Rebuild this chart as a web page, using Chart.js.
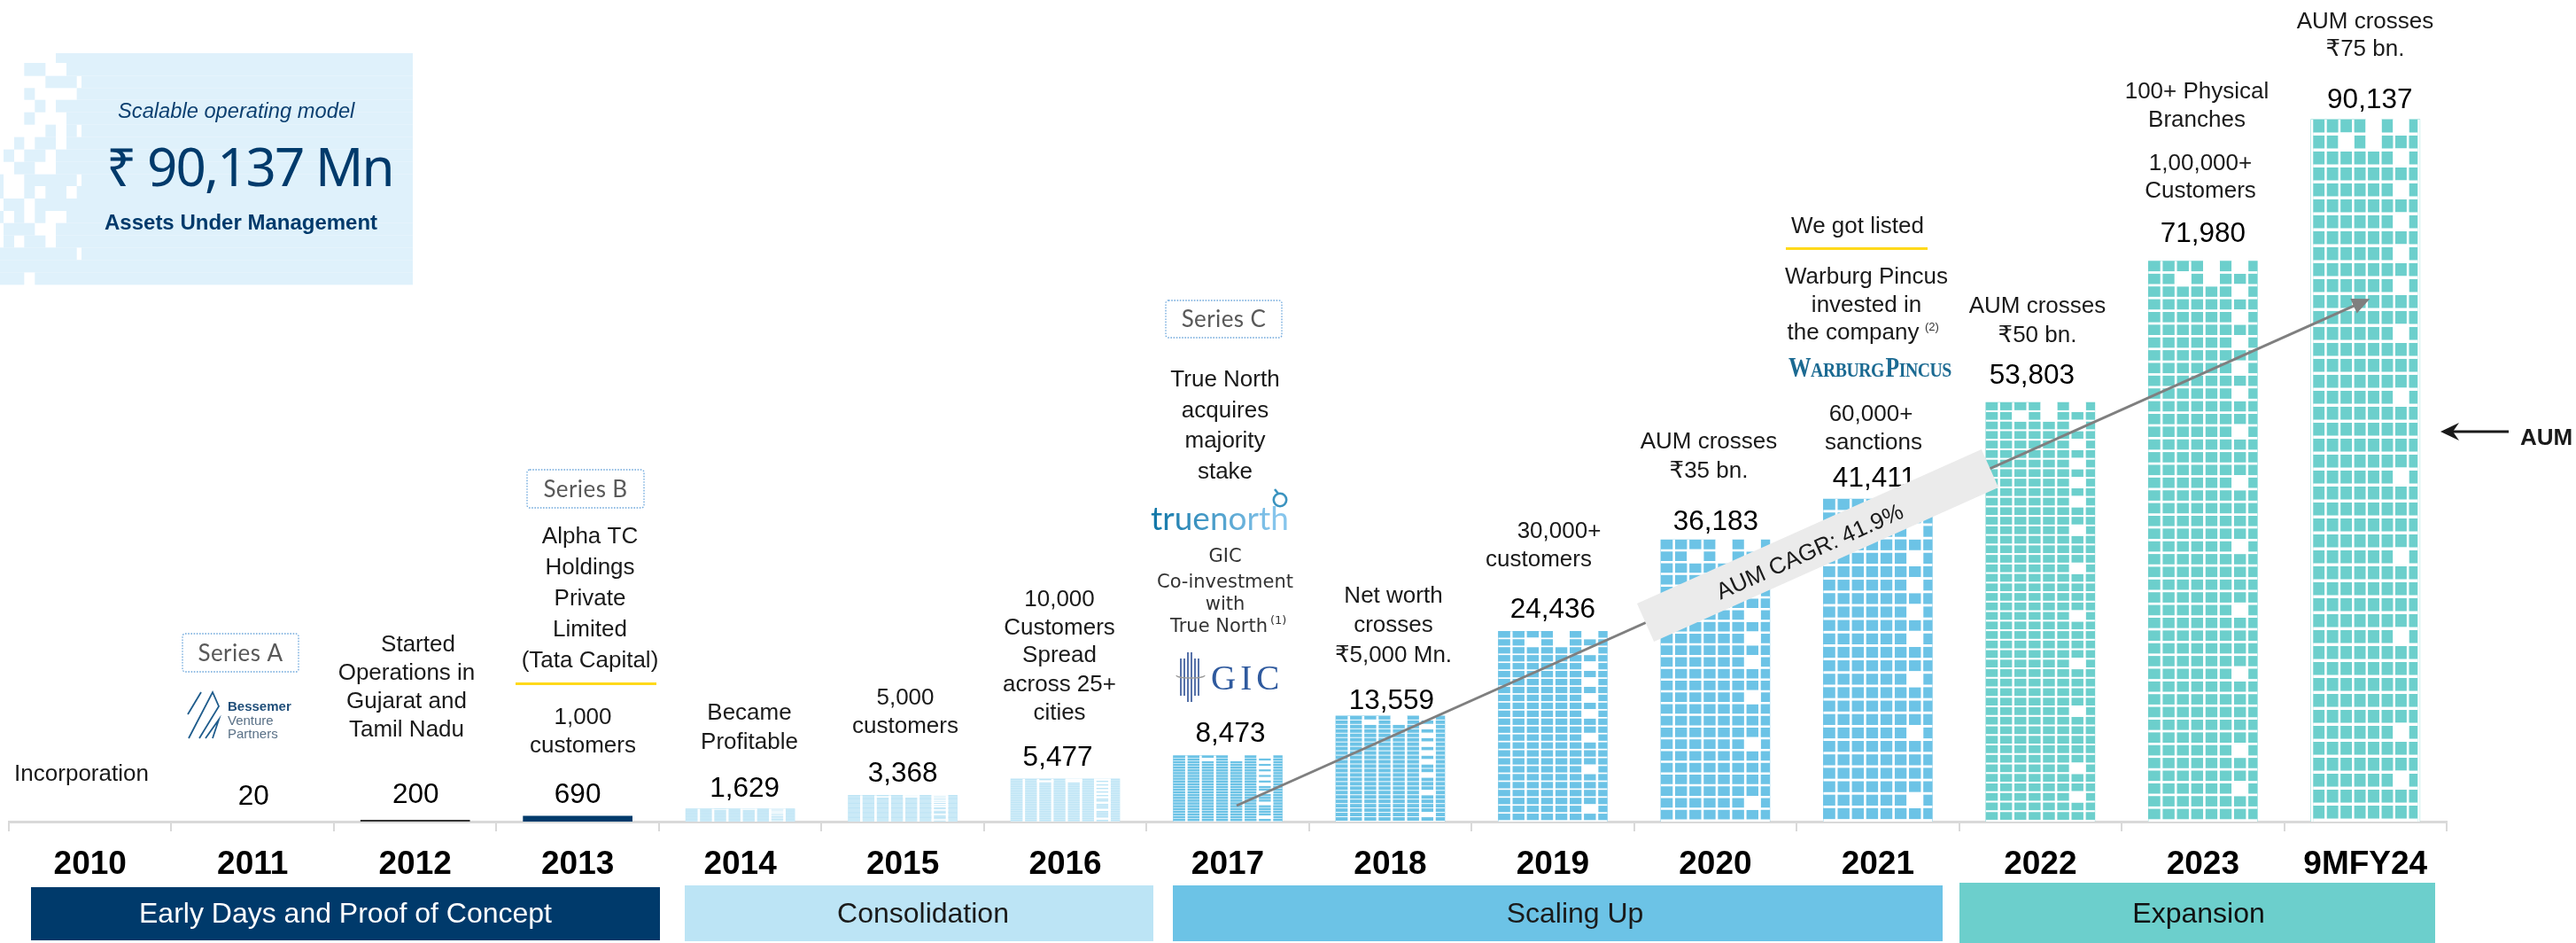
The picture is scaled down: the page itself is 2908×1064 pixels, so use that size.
<!DOCTYPE html>
<html>
<head>
<meta charset="utf-8">
<style>html,body{margin:0;padding:0;background:#fff}canvas{display:block}</style>
<script src="https://cdn.jsdelivr.net/npm/chart.js@4/dist/chart.umd.min.js"></script>
</head>
<body>
<canvas id="c" width="2908" height="1064"></canvas>
<script>
const categories = ['2010','2011','2012','2013','2014','2015','2016','2017','2018','2019','2020','2021','2022','2023','9MFY24'];
const aumValues = [null,20,200,690,1629,3368,5477,8473,13559,24436,36183,41411,53803,71980,90137];
const eraNames = ['Early Days and Proof of Concept','Consolidation','Scaling Up','Expansion'];
const headlineText = ['Scalable operating model','₹ 90,137 Mn','Assets Under Management'];
const cagrText = 'AUM CAGR: 41.9%';

const NAVY='#003A6B', LIGHT='#BCE4F5', BLUE='#6CC3E6', TEAL='#6CCFCC';
const barColors = ['#fff','#d9d9d9','#333333',NAVY,LIGHT,LIGHT,LIGHT,BLUE,BLUE,BLUE,BLUE,BLUE,TEAL,TEAL,TEAL];
const SANS='"Liberation Sans","DejaVu Sans",sans-serif';
const valueLift = [0,19,19,15,14,15,15,15.5,8,15,11.5,14.5,21,21,13];
const valueShift = [0,1,0.5,0,5,0,-8.5,3,1.5,0,0.5,-4,-9.5,0,5];

const notes = [
 ['Incorporation',92,881],
 ['Started',472,735],['Operations in',459,767],['Gujarat and',459,799],['Tamil Nadu',459,831],
 ['Alpha TC',666,613],['Holdings',666,648],['Private',666,683],['Limited',666,718],['(Tata Capital)',666,753],
 ['1,000',658,817],['customers',658,849],
 ['Became',846,812],['Profitable',846,845],
 ['5,000',1022,795],['customers',1022,827],
 ['10,000',1196,684],['Customers',1196,716],['Spread',1196,747],['across 25+',1196,780],['cities',1196,812],
 ['True North',1383,436],['acquires',1383,471],['majority',1383,505],['stake',1383,540],
 ['Net worth',1573,680],['crosses',1573,713],['₹5,000 Mn.',1573,747],
 ['30,000+',1760,607],['customers',1737,639],
 ['AUM crosses',1929,506],['₹35 bn.',1929,539],
 ['60,000+',2112,475],['sanctions',2115,507],
 ['We got listed',2097,263],
 ['Warburg Pincus',2107,320],['invested in',2107,352],['the company',2092,383],
 ['AUM crosses',2300,353],['₹50 bn.',2300,386],
 ['100+ Physical',2480,111],['Branches',2480,143],
 ['1,00,000+',2484,192],['Customers',2484,223],
 ['AUM crosses',2670,32],['₹75 bn.',2670,63]
];
const gicNotes = [['GIC',1383,634],['Co-investment',1383,663],['with',1383,688]];
const seriesBoxes = [['Series A',206,715,131,43],['Series B',595,530,132,43],['Series C',1316,339,131,42]];
const eraBands = [[35,1001,710,60,NAVY,'#fff',390],[773,999,529,63,LIGHT,'#1a1a1a',1042],[1324,999,869,63,BLUE,'#1a1a1a',1778],[2212,996,537,68,TEAL,'#111',2482]];

const mosaicEdges=[180,213,257,298,338,380,422,464,506,548,590,630,672,714,755,797,838,880,922,964];
const E=1398;
const mosaicSpans=[[[189,E]],[[82,154],[225,E]],[[154,260],[276,E]],[[82,118],[260,E]],[[118,154],[189,E]],[[82,118],[225,E]],[[154,189],[225,260],[276,E]],[[48,82],[118,189],[225,E]],[[12,48],[82,154],[189,E]],[[48,118],[189,E]],[[0,12],[82,260],[276,E]],[[0,12],[82,118],[154,225],[260,E]],[[12,82],[118,E]],[[0,12],[48,82],[118,154],[225,E]],[[12,118],[189,E]],[[12,48],[82,154],[189,E]],[[0,260],[276,E]],[[0,E]],[[0,82],[118,E]]];

const holes24=[0,2,4,6,8,10,13,17,22];
const holes44=[0,2,4,6,8,10,13,17,22,27,32,38,41];

function T(ctx,s,x,y,font,color,align,ls){
  ctx.font=font; ctx.fillStyle=color||'#1a1a1a'; ctx.textAlign=align||'center'; ctx.textBaseline='alphabetic';
  ctx.letterSpacing=ls||'0px'; ctx.fillText(s,x,y); ctx.letterSpacing='0px';
}

function drawWindows(ctx,el,i){
  if(i<4) return;
  const rows=i>=12?44:24, holes=i>=12?holes44:holes24;
  const inset=i===14?2.5:0;
  const left=el.x-el.width/2+inset, w=el.width-2*inset, top=el.y, h=el.base-el.y;
  const pitchX=w*0.131, gapX=w*0.022, pitchY=h/rows, gapY=pitchY*0.19;
  ctx.fillStyle='#fff';
  if(inset){ctx.fillRect(left-inset,top,inset,h);ctx.fillRect(left+w,top,inset,h);}
  for(let c=1;c<8;c++) ctx.fillRect(left+c*pitchX-gapX,top,gapX,h);
  for(let r=1;r<=rows;r++) ctx.fillRect(left,top+r*pitchY-gapY,w,gapY);
  const cell=(c,r)=>ctx.fillRect(left+c*pitchX-gapX,top+r*pitchY-gapY,pitchX+gapX,pitchY+gapY);
  holes.forEach(r=>cell(6,r));
  cell(4,0);cell(4,1);cell(2,1);
}

function drawLogos(ctx){
  // Bessemer
  ctx.strokeStyle='#1F5C8C';ctx.lineWidth=1.8;
  [[[212,806],[227,781]],[[213,833],[240,781],[247,797],[225,833]],[[232,833],[247,812],[240,833]]].forEach(p=>{
    ctx.beginPath();p.forEach((q,k)=>k?ctx.lineTo(q[0],q[1]):ctx.moveTo(q[0],q[1]));ctx.stroke();
  });
  T(ctx,'Bessemer',257,802,'bold 15px '+SANS,'#1F4E79','left');
  T(ctx,'Venture',257,818,'15px '+SANS,'#5A7187','left');
  T(ctx,'Partners',257,833,'15px '+SANS,'#5A7187','left');
  // True North
  const g=ctx.createLinearGradient(1299,0,1438,0);g.addColorStop(0,'#0F75A6');g.addColorStop(1,'#86C5EC');
  T(ctx,'truenorth',1299,598,'37px Lato',g,'left');
  ctx.strokeStyle='#3A93BF';ctx.lineWidth=2.6;ctx.beginPath();ctx.arc(1445,564,7.2,0,Math.PI*2);ctx.stroke();
  ctx.beginPath();ctx.moveTo(1439,552);ctx.lineTo(1443,557);ctx.stroke();
  // GIC
  ctx.strokeStyle='#2D4F94';ctx.lineWidth=1.6;
  [1333,1337,1341,1345,1349,1353].forEach((x,k)=>{const e=k===2||k===3?0:7;ctx.beginPath();ctx.moveTo(x,736+e);ctx.lineTo(x,792-e);ctx.stroke();});
  ctx.strokeStyle='#9a9a9a';ctx.lineWidth=1.3;ctx.beginPath();ctx.ellipse(1344,762,16,3,0,0,Math.PI);ctx.stroke();
  T(ctx,'GIC',1367,778,'39px "Liberation Serif"','#2F5A9E','left','5px');
  // Warburg Pincus word mark
  const big='bold 31px "Liberation Serif"', small='bold 24px "Liberation Serif"', col='#1B6A92';
  ctx.save();ctx.translate(2019,0);ctx.scale(0.825,1);
  let wx=0;
  [['W',big],['ARBURG',small],['P',big],['INCUS',small]].forEach((part,k)=>{
    T(ctx,part[0],wx,425,part[1],col,'left','-0.6px');
    ctx.font=part[1];ctx.letterSpacing='-0.6px';wx+=ctx.measureText(part[0]).width;ctx.letterSpacing='0px';
    if(k===1) wx+=2;
  });
  ctx.restore();
}

const timeline={
 id:'timeline',
 beforeDatasetsDraw(chart){
  const ctx=chart.ctx;
  ctx.save();
  ctx.fillStyle='#DFF1FB';
  mosaicSpans.forEach((spans,r)=>spans.forEach(s=>ctx.fillRect(s[0]/3,mosaicEdges[r]/3,(s[1]-s[0])/3,(mosaicEdges[r+1]-mosaicEdges[r])/3)));
  ctx.restore();
 },
 afterDatasetsDraw(chart){
  const ctx=chart.ctx, xs=chart.scales.x, ys=chart.scales.y, meta=chart.getDatasetMeta(0);
  ctx.save();
  meta.data.forEach((el,i)=>{ if(aumValues[i]!=null) drawWindows(ctx,el,i); });
  // headline panel
  T(ctx,headlineText[0],133,133,'italic 23.7px '+SANS,'#0B3F70','left');
  T(ctx,headlineText[1],120,210,'60px "Noto Sans","DejaVu Sans"','#003A6B','left','-1.9px');
  T(ctx,headlineText[2],118,259,'bold 24px '+SANS,'#003A6B','left');
  // value labels
  aumValues.forEach((v,i)=>{ if(v==null) return;
    T(ctx,v.toLocaleString('en-US'),xs.getPixelForValue(i)+valueShift[i],ys.getPixelForValue(v)-valueLift[i],'31.5px '+SANS,'#000');
  });
  // notes
  notes.forEach(n=>T(ctx,n[0],n[1],n[2],'26px '+SANS,'#1a1a1a'));
  gicNotes.forEach(n=>T(ctx,n[0],n[1],n[2],'21px "DejaVu Sans"','#333'));
  T(ctx,'True North',1376,713,'21px "DejaVu Sans"','#333');
  T(ctx,'(1)',1434,704,'13px "DejaVu Sans"','#333','left');
  T(ctx,'(2)',2173,373,'13px '+SANS,'#333','left');
  // yellow rules
  ctx.fillStyle='#FFD91A';ctx.fillRect(582,770,159,3);ctx.fillRect(2016,279,160,3);
  // series boxes
  seriesBoxes.forEach(b=>{
    ctx.fillStyle='#fff';ctx.strokeStyle='#6FA8DC';ctx.lineWidth=1.3;ctx.setLineDash([1.6,1.6]);
    ctx.beginPath();ctx.roundRect(b[1],b[2],b[3],b[4],3);ctx.fill();ctx.stroke();ctx.setLineDash([]);
    T(ctx,b[0],b[1]+b[3]/2,b[2]+b[4]/2+9,'26px Lato','#595959','center','0.4px');
  });
  drawLogos(ctx);
  // CAGR arrow anchored to the scales
  const ax=xs.getPixelForValue(7)+10, ay=ys.getPixelForValue(2048), bx=xs.getPixelForValue(14)+5, by=ys.getPixelForValue(67122);
  const th=Math.atan2(by-ay,bx-ax);
  ctx.strokeStyle='#7F7F7F';ctx.lineWidth=3;ctx.beginPath();ctx.moveTo(ax,ay);ctx.lineTo(bx-10*Math.cos(th),by-10*Math.sin(th));ctx.stroke();
  ctx.fillStyle='#7F7F7F';ctx.beginPath();ctx.moveTo(bx,by);
  ctx.lineTo(bx-20*Math.cos(th)+9*Math.sin(th),by-20*Math.sin(th)-9*Math.cos(th));
  ctx.lineTo(bx-20*Math.cos(th)-9*Math.sin(th),by-20*Math.sin(th)+9*Math.cos(th));
  ctx.closePath();ctx.fill();
  // CAGR ribbon
  ctx.save();ctx.translate(2052,615.5);ctx.rotate(-24.1*Math.PI/180);
  ctx.fillStyle='#EBEBEB';ctx.fillRect(-213,-23.5,426,47);
  T(ctx,cagrText,-11,11,'26px '+SANS,'#1a1a1a');
  ctx.restore();
  // AUM pointer
  ctx.strokeStyle='#1a1a1a';ctx.lineWidth=3;ctx.beginPath();ctx.moveTo(2765,487);ctx.lineTo(2832,487);ctx.stroke();
  ctx.fillStyle='#1a1a1a';ctx.beginPath();ctx.moveTo(2755,487);ctx.lineTo(2776,477);ctx.lineTo(2769,487);ctx.lineTo(2776,497);ctx.closePath();ctx.fill();
  T(ctx,'AUM',2845,502,'bold 26px '+SANS,'#1a1a1a','left');
  // era bands
  eraBands.forEach((b,i)=>{
    ctx.fillStyle=b[4];ctx.fillRect(b[0],b[1],b[2],b[3]);
    T(ctx,eraNames[i],b[6],1041,'32px '+SANS,b[5]);
  });
  ctx.restore();
 }
};

new Chart(document.getElementById('c'),{
 type:'bar',
 data:{labels:categories,datasets:[{label:'AUM',data:aumValues,backgroundColor:barColors,borderWidth:0,barThickness:123}]},
 options:{
  responsive:false,animation:false,devicePixelRatio:1,
  layout:{padding:{left:10,right:146,top:50,bottom:0}},
  plugins:{legend:{display:false},tooltip:{enabled:false}},
  scales:{
   x:{offset:true,
      grid:{display:true,offset:true,drawOnChartArea:false,drawTicks:true,tickLength:11,color:'#D9D9D9',lineWidth:2},
      border:{display:true,color:'#D9D9D9',width:3},
      ticks:{color:'#000',font:{family:'"Liberation Sans"',size:37,weight:'bold'},padding:16,autoSkip:false,maxRotation:0,minRotation:0},
      afterFit(s){s.height=137;}},
   y:{display:false,min:0,max:99800}
  }
 },
 plugins:[timeline]
});
</script>
</body>
</html>
